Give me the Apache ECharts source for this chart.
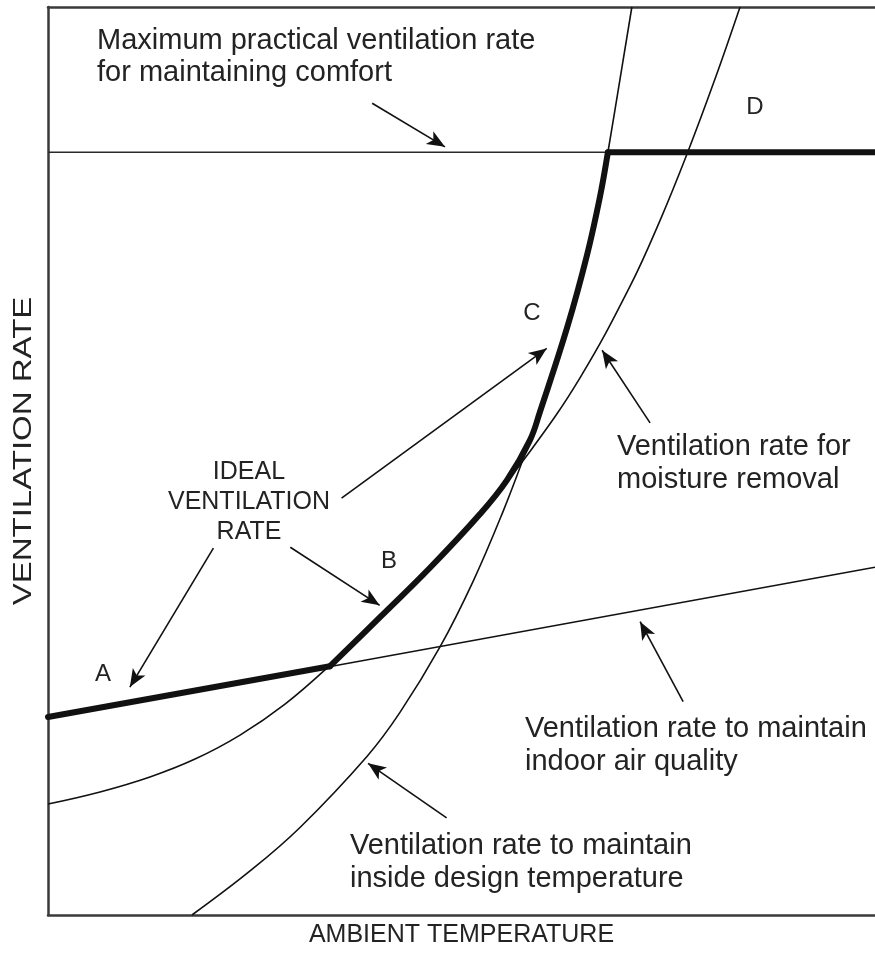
<!DOCTYPE html>
<html>
<head>
<meta charset="utf-8">
<script src="https://cdn.jsdelivr.net/npm/echarts@6/dist/echarts.min.js"></script>
<style>
  html, body { margin: 0; padding: 0; background: #fff; }
  #chart { width: 875px; height: 953px; }
</style>
</head>
<body>
<div id="chart"></div>
<script>
// all values on a 0-100 scale (x = ambient temperature, y = ventilation rate)
const moistureCurve = [
  [0, 12.22], [6.29, 13.55], [12.33, 15.20], [17.78, 17.17], [23.22, 19.81],
  [28.66, 23.22], [34.10, 27.50], [40.15, 32.80], [46.19, 38.24], [52.24, 44.16],
  [58.28, 51.05], [64.33, 59.16], [70.37, 69.22], [74.00, 76.48], [77.27, 83.81],
  [80.65, 92.06], [83.68, 100]
];
const temperatureCurve = [
  [17.41, 0], [24.43, 4.85], [30.47, 9.64], [38.57, 17.46], [42.56, 22.31],
  [47.40, 29.52], [51.39, 36.72], [55.02, 44.43], [57.68, 50.77], [59.49, 55.43],
  [62.76, 64.65], [65.18, 72.69], [66.75, 79.13], [67.59, 83.37], [70.60, 100]
];
const airQualityLine = [[0, 21.7], [100, 38.3]];
const maxPracticalLine = [[0, 84.0], [100, 84.0]];

// ideal ventilation rate, in three pieces (IAQ, moisture then temperature, max practical)
const idealLow = [[0, 21.8], [34.10, 27.40]];
const idealMid = [
  [34.10, 27.40], [40.15, 32.80], [46.19, 38.24], [52.24, 44.16], [55.50, 47.90],
  [58.28, 52.30], [59.49, 55.43], [62.76, 64.65], [65.18, 72.69], [66.75, 79.13],
  [67.70, 84.0]
];
const idealHigh = [[67.70, 84.0], [100, 84.0]];

// annotation arrows: [fromX, fromY, toX, toY]
const arrows = [
  [39.2, 89.4, 48.0, 84.6],
  [35.5, 45.9, 60.3, 62.4],
  [20.0, 40.4, 9.9, 25.1],
  [29.3, 40.5, 40.1, 34.1],
  [72.8, 54.2, 67.0, 62.2],
  [76.8, 23.5, 71.6, 32.3],
  [48.2, 10.7, 38.7, 16.7]
];

const FONT = "'Liberation Sans', Arial, Helvetica, sans-serif";
const INK = '#111';
const TEXT = '#232323';

const chart = echarts.init(document.getElementById('chart'));

const thin = (data, smooth) => ({
  type: 'line', data, smooth, symbol: 'none', silent: true,
  lineStyle: { color: INK, width: 1.6 }
});
const thick = (data, smooth) => ({
  type: 'line', data, smooth, symbol: 'none', silent: true, z: 3,
  lineStyle: { color: INK, width: 6, cap: 'round', join: 'round' }
});

const label = (text, x, y, size, opts = {}) => ({
  type: 'text',
  x, y,
  silent: true,
  style: Object.assign({
    text, x: 0, y: 0,
    font: `${size}px ${FONT}`,
    fill: TEXT,
    align: 'left', textAlign: 'left',
    verticalAlign: 'top', textVerticalAlign: 'top',
    lineHeight: size + 4
  }, opts)
});
const centered = { align: 'center', textAlign: 'center', verticalAlign: 'middle', textVerticalAlign: 'middle' };

chart.setOption({
  animation: false,
  backgroundColor: '#fff',
  grid: { left: 48, right: 0, top: 7, bottom: 38, containLabel: false },
  xAxis: [
    {
      type: 'value', min: 0, max: 100, position: 'bottom',
      axisLine: { show: true, onZero: false, lineStyle: { color: '#3a3a3a', width: 2.5 } },
      axisTick: { show: false }, axisLabel: { show: false }, splitLine: { show: false },
      name: 'AMBIENT TEMPERATURE', nameLocation: 'middle', nameGap: 8,
      nameTextStyle: { fontFamily: FONT, fontSize: 25, color: TEXT, verticalAlign: 'top' }
    },
    {
      type: 'value', min: 0, max: 100, position: 'top',
      axisLine: { show: true, onZero: false, lineStyle: { color: '#3a3a3a', width: 2.5 } },
      axisTick: { show: false }, axisLabel: { show: false }, splitLine: { show: false }
    }
  ],
  yAxis: {
    type: 'value', min: 0, max: 100,
    axisLine: { show: true, onZero: false, lineStyle: { color: '#3a3a3a', width: 2.5 } },
    axisTick: { show: false }, axisLabel: { show: false }, splitLine: { show: false }
  },
  series: [
    thin(moistureCurve, 0.4),
    thin(temperatureCurve, 0.4),
    thin(airQualityLine, false),
    Object.assign(thin(maxPracticalLine, false), { lineStyle: { color: '#2a2a2a', width: 1.4 } }),
    thick(idealLow, false),
    thick(idealMid, 0.4),
    thick(idealHigh, false),
    {
      type: 'line', data: [], silent: true,
      markLine: {
        silent: true,
        symbol: ['none', 'arrow'],
        symbolSize: [11, 18],
        label: { show: false },
        lineStyle: { color: INK, width: 1.6, type: 'solid' },
        data: arrows.map(a => [{ coord: [a[0], a[1]] }, { coord: [a[2], a[3]] }])
      }
    }
  ],
  graphic: [
    label('Maximum practical ventilation rate\nfor maintaining comfort', 97, 25, 29, { lineHeight: 32 }),
    label('Ventilation rate for\nmoisture removal', 617, 430, 29, { lineHeight: 33 }),
    label('Ventilation rate to maintain\nindoor air quality', 525, 712, 29, { lineHeight: 33 }),
    label('Ventilation rate to maintain\ninside design temperature', 350, 829, 29, { lineHeight: 33 }),
    label('IDEAL\nVENTILATION\nRATE', 249, 457, 25, { lineHeight: 30, align: 'center', textAlign: 'center' }),
    label('A', 103, 674, 24, centered),
    label('B', 389, 561, 24, centered),
    label('C', 532, 313, 24, centered),
    label('D', 755, 107, 24, centered),
    Object.assign(label('VENTILATION RATE', 24, 451, 25, centered), { rotation: Math.PI / 2, scaleX: 1.32 })
  ]
});

window.addEventListener('resize', () => chart.resize());
</script>
</body>
</html>
